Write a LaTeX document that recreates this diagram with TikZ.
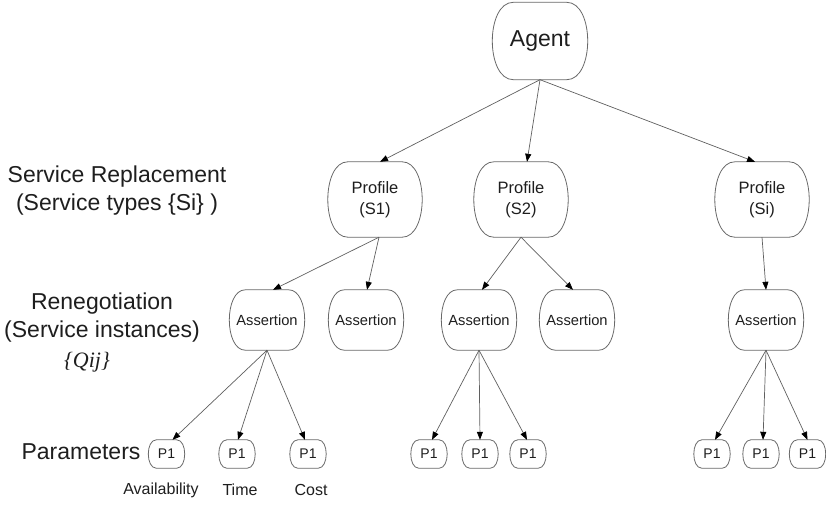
\documentclass[tikz,border=0pt]{standalone}
\usepackage{fontspec}
\setmainfont{Liberation Sans}
\newfontfamily\timesfont{Liberation Serif}
\usetikzlibrary{arrows.meta}
\definecolor{linegray}{RGB}{95,95,95}
\definecolor{boxgray}{RGB}{105,105,105}
\definecolor{txt}{RGB}{30,30,30}
\tikzset{
  basebox/.style={inner sep=0pt, align=center, text=txt},
  bigbox/.style={basebox, minimum width=95pt, minimum height=77pt, font=\fontsize{23}{26}\selectfont},
  profbox/.style={basebox, minimum width=94pt, minimum height=75pt, font=\fontsize{16.5}{21}\selectfont},
  assbox/.style={basebox, minimum width=75pt, minimum height=60pt, font=\fontsize{14.7}{17}\selectfont},
  parbox/.style={basebox, minimum width=36pt, minimum height=28pt, font=\fontsize{14}{16}\selectfont},
  outline/.style={draw=boxgray, line width=0.8pt},
  conn/.style={draw=linegray, line width=0.7pt, -{Triangle[length=8pt,width=6pt,fill=black,color=black]}},
  lbl/.style={text=txt, inner sep=0pt, align=center, font=\fontsize{23}{28}\selectfont},
  sublbl/.style={text=txt, inner sep=0pt, font=\fontsize{16}{18}\selectfont}
}
\begin{document}
\begin{tikzpicture}[x=1pt,y=-1pt]
\useasboundingbox (0,0) rectangle (826,504);
% nodes
\node[bigbox] (agent) at (540,41) {Agent};
\node[profbox] (p1) at (375,199.5) {Profile\\(S1)};
\node[profbox] (p2) at (521,199.5) {Profile\\(S2)};
\node[profbox] (p3) at (762,199.5) {Profile\\(Si)};
\node[assbox] (a11) at (267,320) {Assertion};
\node[assbox] (a12) at (366,320) {Assertion};
\node[assbox] (a21) at (479,320) {Assertion};
\node[assbox] (a22) at (577,320) {Assertion};
\node[assbox] (a31) at (766,320) {Assertion};
\node[parbox] (q1) at (166.5,454) {P1};
\node[parbox] (q2) at (237,454) {P1};
\node[parbox] (q3) at (308,454) {P1};
\node[parbox] (q4) at (429,454) {P1};
\node[parbox] (q5) at (480,454) {P1};
\node[parbox] (q6) at (528,454) {P1};
\node[parbox] (q7) at (712,454) {P1};
\node[parbox] (q8) at (761,454) {P1};
\node[parbox] (q9) at (807.5,454) {P1};
% bulging outlines
\foreach \n/\r in {agent/21, p1/20, p2/20, p3/20, a11/16, a12/16, a21/16, a22/16, a31/16,
                   q1/8, q2/8, q3/8, q4/8, q5/8, q6/8, q7/8, q8/8, q9/8}{
  \draw[outline] ([xshift=\r pt]\n.north west) -- ([xshift=-\r pt]\n.north east)
    .. controls ([xshift=\r/3 pt]\n.north east) and ([xshift=\r/3 pt]\n.south east) .. ([xshift=-\r pt]\n.south east)
    -- ([xshift=\r pt]\n.south west)
    .. controls ([xshift=-\r/3 pt]\n.south west) and ([xshift=-\r/3 pt]\n.north west) .. cycle;
}
% labels
\node[lbl] (l1) at (117,191) {Service Replacement\\(Service types \{Si\} )};
\node[lbl] (l2) at (102,318) {Renegotiation\\(Service instances)};
\node[text=txt, inner sep=0pt, font=\timesfont\itshape\fontsize{22}{24}\selectfont] (l3) at (87,362) {\{Qij\}};
\node[lbl] (l4) at (81,452) {Parameters};
\node[sublbl] (s1) at (161,490) {Availability};
\node[sublbl] (s2) at (240,490) {Time};
\node[sublbl] (s3) at (311,490) {Cost};
% connectors
\draw[conn] (agent.south) -- ([xshift=5pt]p1.north);
\draw[conn] (agent.south) -- ([xshift=6pt]p2.north);
\draw[conn] (agent.south) -- ([xshift=-7pt]p3.north);
\draw[conn] ([xshift=4pt]p1.south) -- ([xshift=6pt]a11.north);
\draw[conn] ([xshift=4pt]p1.south) -- ([xshift=1pt]a12.north);
\draw[conn] (p2.south) -- ([xshift=3pt]a21.north);
\draw[conn] (p2.south) -- ([xshift=-4pt]a22.north);
\draw[conn] (p3.south) -- (a31.north);
\draw[conn] (a11.south) -- ([xshift=6pt]q1.north);
\draw[conn] (a11.south) -- ([xshift=1pt]q2.north);
\draw[conn] (a11.south) -- ([xshift=-3pt]q3.north);
\draw[conn] (a21.south) -- ([xshift=3pt]q4.north);
\draw[conn] (a21.south) -- (q5.north);
\draw[conn] (a21.south) -- ([xshift=-1pt]q6.north);
\draw[conn] (a31.south) -- ([xshift=3pt]q7.north);
\draw[conn] (a31.south) -- ([xshift=2pt]q8.north);
\draw[conn] (a31.south) -- ([xshift=0pt]q9.north);
\end{tikzpicture}
\end{document}
